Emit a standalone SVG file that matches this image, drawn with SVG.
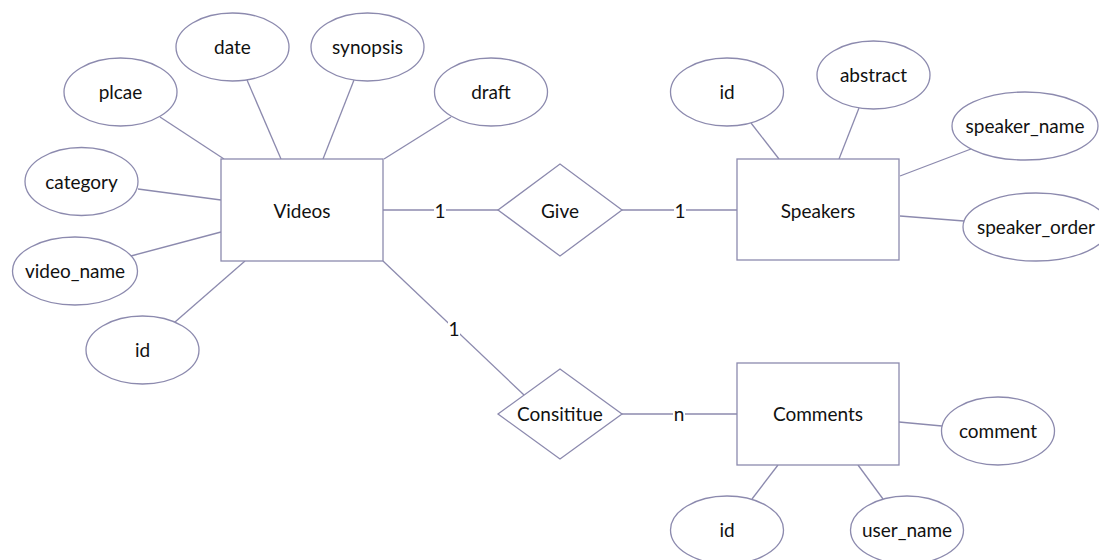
<svg xmlns="http://www.w3.org/2000/svg" width="1099" height="560" viewBox="0 0 1099 560">
<style>
.s{fill:#fff;stroke:#8c8aae;stroke-width:1.3}
.l{stroke:#8c8aae;stroke-width:1.3;fill:none}
text{font-family:Lato,"Open Sans","Liberation Sans",sans-serif;font-size:19px;fill:#111;text-anchor:middle;dominant-baseline:central}
.c{fill:#fff;stroke:none}
</style>
<rect width="1099" height="560" fill="#fff"/>
<g id="connectors">
<line class="l" x1="160" y1="117" x2="224" y2="159"/>
<line class="l" x1="247" y1="80" x2="281" y2="159"/>
<line class="l" x1="354" y1="80" x2="323" y2="159"/>
<line class="l" x1="451" y1="117" x2="384" y2="159"/>
<line class="l" x1="138" y1="189" x2="221" y2="200"/>
<line class="l" x1="131" y1="256" x2="221" y2="232"/>
<line class="l" x1="175" y1="322" x2="245" y2="261"/>
<line class="l" x1="383" y1="210" x2="498" y2="210"/>
<line class="l" x1="622" y1="210" x2="737" y2="210"/>
<line class="l" x1="383" y1="261" x2="524" y2="395"/>
<line class="l" x1="622" y1="414" x2="737" y2="414"/>
<line class="l" x1="751" y1="123" x2="779" y2="159"/>
<line class="l" x1="859" y1="108" x2="839" y2="159"/>
<line class="l" x1="971" y1="149" x2="900" y2="176"/>
<line class="l" x1="900" y1="216" x2="964" y2="221"/>
<line class="l" x1="899" y1="422" x2="942" y2="426"/>
<line class="l" x1="778" y1="465" x2="752" y2="499"/>
<line class="l" x1="858" y1="465" x2="883" y2="499"/>
<rect class="c" x="434" y="200" width="12" height="20"/>
<text x="440" y="210">1</text>
<rect class="c" x="674" y="200" width="12" height="20"/>
<text x="680" y="210">1</text>
<rect class="c" x="448" y="318" width="12" height="20"/>
<text x="454" y="328">1</text>
<rect class="c" x="673" y="404" width="12" height="20"/>
<text x="679" y="413">n</text>
</g>
<g id="videos"><rect class="s" x="221" y="159" width="162" height="102"/><text x="302" y="210">Videos</text></g>
<g id="speakers"><rect class="s" x="737" y="159" width="162" height="101"/><text x="818" y="210">Speakers</text></g>
<g id="comments"><rect class="s" x="737" y="363" width="162" height="102"/><text x="818" y="413">Comments</text></g>
<g id="give"><polygon class="s" points="498,210 560,164 622,210 560,256"/><text x="560" y="210">Give</text></g>
<g id="consititue"><polygon class="s" points="498,414 560,369 622,414 560,459"/><text x="560" y="413">Consititue</text></g>
<g id="date"><ellipse class="s" cx="232.5" cy="47" rx="56.5" ry="34"/><text x="232.5" y="46">date</text></g>
<g id="synopsis"><ellipse class="s" cx="367.5" cy="47" rx="56.5" ry="34"/><text x="367.5" y="46">synopsis</text></g>
<g id="plcae"><ellipse class="s" cx="120.5" cy="92" rx="56.5" ry="34"/><text x="120.5" y="91">plcae</text></g>
<g id="draft"><ellipse class="s" cx="491" cy="92" rx="56.5" ry="34"/><text x="491" y="91">draft</text></g>
<g id="category"><ellipse class="s" cx="81.5" cy="181.5" rx="56.5" ry="34"/><text x="81.5" y="181">category</text></g>
<g id="video_name"><ellipse class="s" cx="75" cy="271" rx="62.5" ry="34"/><text x="75" y="270">video_name</text></g>
<g id="videos_id"><ellipse class="s" cx="142.5" cy="350" rx="56.5" ry="34"/><text x="142.5" y="349">id</text></g>
<g id="speakers_id"><ellipse class="s" cx="727" cy="92" rx="56.5" ry="34"/><text x="727" y="91">id</text></g>
<g id="abstract"><ellipse class="s" cx="873.5" cy="75" rx="56.5" ry="34"/><text x="873.5" y="74">abstract</text></g>
<g id="speaker_name"><ellipse class="s" cx="1025" cy="126" rx="73" ry="34"/><text x="1025" y="125">speaker_name</text></g>
<g id="speaker_order"><ellipse class="s" cx="1036" cy="227" rx="73" ry="34"/><text x="1036" y="226">speaker_order</text></g>
<g id="comment"><ellipse class="s" cx="998" cy="431" rx="56.5" ry="34"/><text x="998" y="430">comment</text></g>
<g id="comments_id"><ellipse class="s" cx="727" cy="530" rx="56.5" ry="34"/><text x="727" y="529">id</text></g>
<g id="user_name"><ellipse class="s" cx="907" cy="530" rx="56.5" ry="34"/><text x="907" y="529">user_name</text></g>
</svg>
